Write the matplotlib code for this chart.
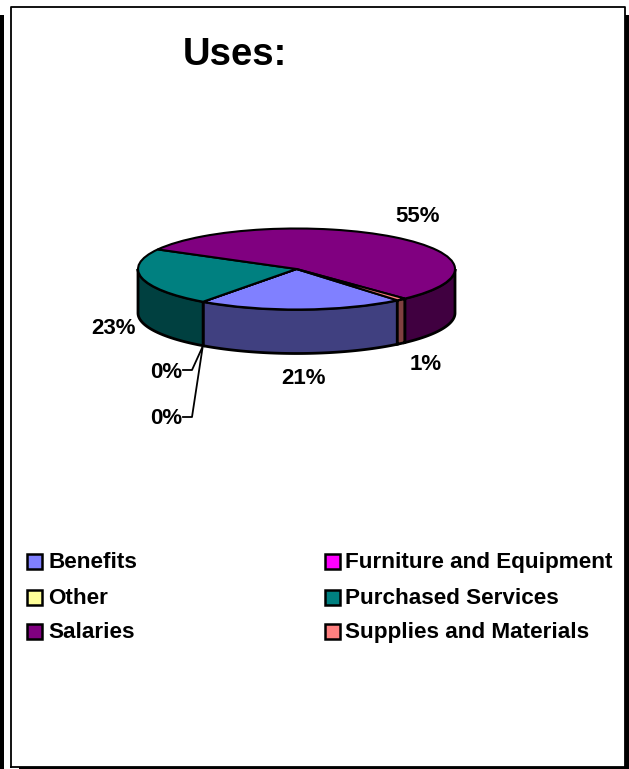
import numpy as np
import matplotlib
matplotlib.use('Agg')
from matplotlib import pyplot as plt
from matplotlib.patches import Rectangle

W, H = 629, 769

categories = ['Benefits', 'Furniture and Equipment', 'Other',
              'Purchased Services', 'Salaries', 'Supplies and Materials']
values = [21, 0, 0, 23, 55, 1]
top_colors = ['#8080FF', '#FF00FF', '#FFFF99', '#008080', '#800080', '#FF8080']
side_colors = ['#404080', '#800080', '#808040', '#004040', '#400040', '#804040']

# pie geometry in pixels
cx, cy, rx, ry, depth = 296.5, 269, 158.5, 40.5, 44
start_cw = 140.5   # degrees clockwise from 12 o'clock

plt.rcParams['font.family'] = ['Liberation Sans', 'DejaVu Sans']

fig = plt.figure(figsize=(W / 100, H / 100), dpi=100)

# pie axes: one data unit is one pie radius, so the circle comes out flattened
ax = fig.add_axes([0, 0, 1, 1])
ax.pie(values, colors=top_colors, startangle=90 - start_cw, counterclock=False,
       radius=1, center=(0, 0), wedgeprops={'edgecolor': 'black', 'linewidth': 1.5},
       frame=False)
ax.set_aspect('auto')
ax.set_xlim((0 - cx) / rx, (W - cx) / rx)
ax.set_ylim((cy - H) / ry, (cy - 0) / ry)
ax.axis('off')

# side wall, only the front half (90..270 clockwise from top) can be seen
theta = start_cw
for val, col in zip(values, side_colors):
    a0, a1 = theta, theta + val * 3.6
    theta = a1
    for shift in (0, 360):
        lo = max(a0 - shift, 90)
        hi = min(a1 - shift, 270)
        if hi <= lo:
            continue
        t = np.radians(np.linspace(lo, hi, 80))
        xs = np.sin(t)
        ys = np.cos(t)
        ax.fill(np.r_[xs, xs[::-1]], np.r_[ys, ys[::-1] - depth / ry],
                facecolor=col, edgecolor='black', linewidth=2, zorder=0.5)

# overlay in pixel coordinates for frame, labels and legend
ov = fig.add_axes([0, 0, 1, 1])
ov.set_xlim(0, W)
ov.set_ylim(H, 0)
ov.axis('off')
ov.patch.set_alpha(0)

ov.plot([11, 11, 625, 625, 11], [767, 7, 7, 767, 767], color='black', lw=1.3)
# thick shadow bars down the sides and along the bottom
ov.add_patch(Rectangle((0, 15), 4, 754, facecolor='black', edgecolor='none'))
ov.add_patch(Rectangle((625, 15), 4, 754, facecolor='black', edgecolor='none'))
ov.add_patch(Rectangle((19, 767), 610, 2, facecolor='black', edgecolor='none'))

ov.text(235, 65, 'Uses:', fontsize=27.5, fontweight='bold', ha='center', va='baseline')

# value labels
label_pos = [(304, 379), (166, 373), (166, 419), (114, 328), (418, 216), (426, 365)]
for val, (px, py) in zip(values, label_pos):
    ov.text(px, py, '%d%%' % val, fontsize=16, fontweight='bold', ha='center', va='center')

# leader lines for the two empty slices
ov.plot([183, 192, 202], [370, 370, 348], color='black', lw=1.3)
ov.plot([183, 192, 202.5], [417, 417, 348], color='black', lw=1.3)

# legend
swatch_x = [27, 325]
text_x = [48, 345]
swatch_y = [561, 597, 631]
base_y = [568, 604, 638]
for i, (name, col) in enumerate(zip(categories, top_colors)):
    c, r = i % 2, i // 2
    ov.add_patch(Rectangle((swatch_x[c], swatch_y[r] - 7.5), 15, 15, facecolor=col,
                           edgecolor='black', linewidth=1.8))
    ov.text(text_x[c], base_y[r], name, fontsize=16.2, fontweight='bold', ha='left', va='baseline')

fig.savefig('out.png', dpi=100)
